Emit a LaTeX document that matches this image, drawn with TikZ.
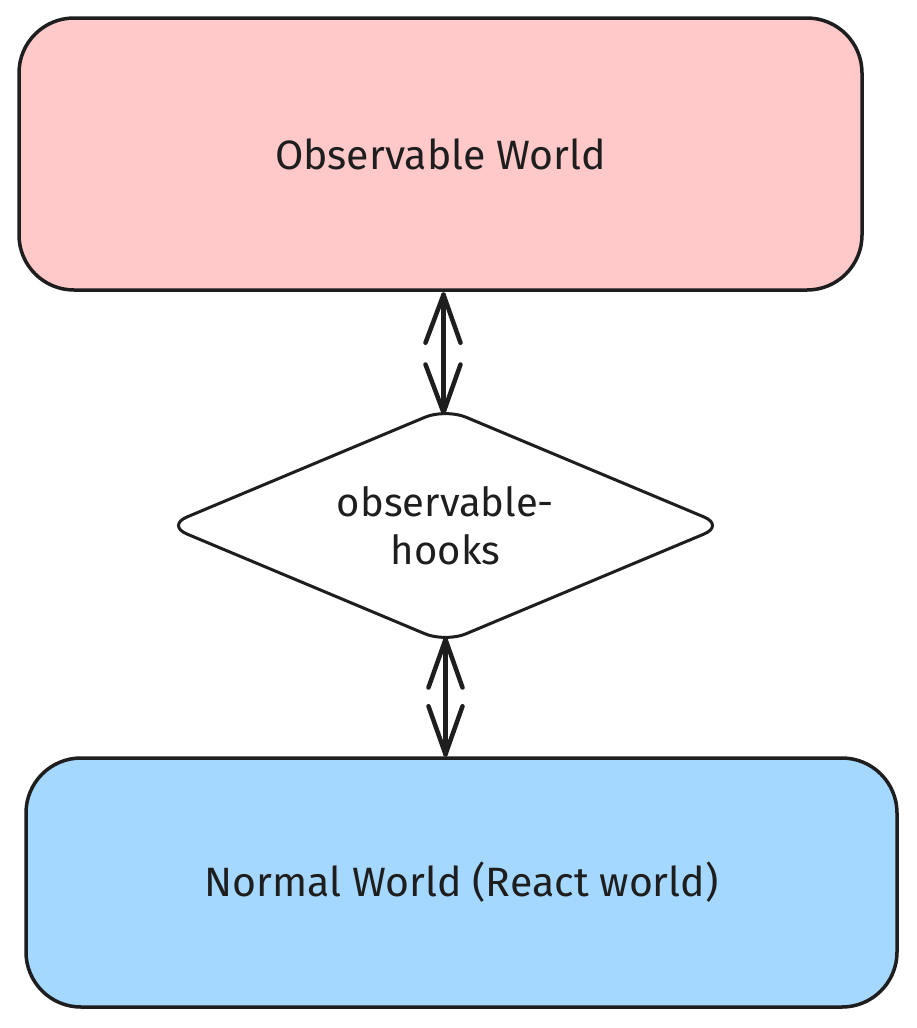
\documentclass[tikz,border=0pt]{standalone}
\usepackage{fontspec}
\setmainfont{Fira Sans}
\usetikzlibrary{shapes.geometric,calc}
\definecolor{ink}{HTML}{1E1E1E}
\definecolor{pinkfill}{HTML}{FFC9C9}
\definecolor{bluefill}{HTML}{A5D8FF}
\tikzset{
  worldbox/.style={draw=ink, line width=3.5pt, rounded corners=55pt, inner sep=0pt,
    text=ink, font=\fontsize{41}{48}\selectfont},
  hookdia/.style={draw=ink, line width=3pt, fill=white, diamond, aspect=2.4, inner sep=0pt,
    rounded corners=22pt, minimum width=559pt, minimum height=235pt, text=ink,
    font=\fontsize{40}{48}\selectfont, align=center},
  shaft/.style={draw=ink, line width=5pt, line cap=round},
  barb/.style={draw=ink, line width=4.5pt, line cap=round, line join=round}
}
\begin{document}
\begin{tikzpicture}[x=1pt,y=-1pt]
\useasboundingbox (0,0) rectangle (917,1028);
\fill[white] (0,0) rectangle (917,1028);
\node[worldbox, fill=pinkfill, minimum width=843pt, minimum height=272pt] (obs) at (440.5,154) {Observable World};
\node[worldbox, fill=bluefill, minimum width=871pt, minimum height=249pt] (norm) at (461.5,882.5) {Normal World (React world)};
\node[hookdia] (hooks) at (445.5,525.5) {observable-\\hooks};
% upper double arrow
\coordinate (a1) at ($(obs.south -| hooks.north)+(-2,3)$);
\coordinate (a2) at ($(hooks.north)+(-2,6)$);
\draw[shaft] (a1) -- (a2);
\draw[barb] ($(a1)+(-18,48)$) -- (a1) -- ($(a1)+(17,48)$);
\draw[barb] ($(a2)+(-18,-48)$) -- (a2) -- ($(a2)+(17,-48)$);
% lower double arrow
\coordinate (b1) at ($(hooks.south)+(0,-5)$);
\coordinate (b2) at ($(hooks.south |- norm.north)+(0,-2)$);
\draw[shaft] (b1) -- (b2);
\draw[barb] ($(b1)+(-17,48)$) -- (b1) -- ($(b1)+(17,48)$);
\draw[barb] ($(b2)+(-17,-48)$) -- (b2) -- ($(b2)+(17,-48)$);
\end{tikzpicture}
\end{document}
